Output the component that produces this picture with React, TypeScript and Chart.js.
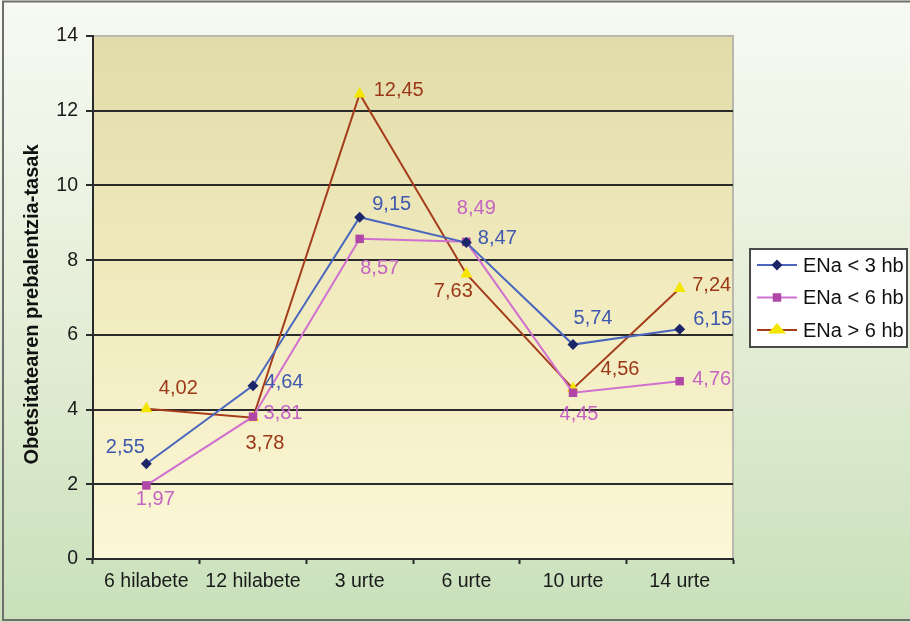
import React, { useEffect, useRef } from "react";
import { Chart, registerables } from "chart.js";

Chart.register(...registerables);

// Age groups along the x axis
const categories = ["6 hilabete", "12 hilabete", "3 urte", "6 urte", "10 urte", "14 urte"];

// Obesity prevalence rates per breastfeeding-duration group
const seriesNames = ["ENa < 3 hb", "ENa < 6 hb", "ENa > 6 hb"];
const under3 = [2.55, 4.64, 9.15, 8.47, 5.74, 6.15];
const under6 = [1.97, 3.81, 8.57, 8.49, 4.45, 4.76];
const over6 = [4.02, 3.78, 12.45, 7.63, 4.56, 7.24];

const yTicks = [0, 2, 4, 6, 8, 10, 12, 14];
const yTitle = "Obetsitatearen prebalentzia-tasak";

// Where each value label sits relative to its point (px)
const labelOffsets: [number, number][][] = [
  [[-21, -16], [31, -3], [32, -13], [31, -4], [20, -26], [33, -10]],
  [[9, 14], [30, -3], [20, 30], [10, -33], [6, 22], [32, -2]],
  [[32, -20], [12, 26], [39, -3], [-13, 18], [47, -19], [32, -3]],
];

const styles = [
  { line: "#4a66bd", marker: "#1b2668", label: "#3d58ad", shape: "rectRot", radius: 5.5 },
  { line: "#d070cf", marker: "#b046a6", label: "#c464c2", shape: "rect", radius: 6 },
  { line: "#a53c1b", marker: "#f4e600", label: "#9a3817", shape: "triangle", radius: 7 },
];

const FONT = "'Liberation Sans', Arial, sans-serif";

const fmt = (v: number) => v.toFixed(2).replace(".", ",");

function drawMarker(ctx: CanvasRenderingContext2D, shape: string, x: number, y: number, r: number, color: string) {
  ctx.save();
  ctx.fillStyle = color;
  ctx.beginPath();
  if (shape === "rectRot") {
    ctx.moveTo(x, y - r);
    ctx.lineTo(x + r, y);
    ctx.lineTo(x, y + r);
    ctx.lineTo(x - r, y);
  } else if (shape === "rect") {
    const s = r * Math.SQRT1_2;
    ctx.rect(x - s, y - s, s * 2, s * 2);
  } else {
    const h = r * 1.5;
    const w = r * 0.866 * 1.5;
    ctx.moveTo(x, y - h * 0.66);
    ctx.lineTo(x + w, y + h * 0.34);
    ctx.lineTo(x - w, y + h * 0.34);
  }
  ctx.closePath();
  ctx.fill();
  ctx.restore();
}

const backgroundPlugin = {
  id: "panelBackground",
  beforeDraw(chart: any) {
    const { ctx, width, height, chartArea } = chart;
    ctx.save();
    const outer = ctx.createLinearGradient(0, 0, 0, height);
    outer.addColorStop(0, "#f7faf3");
    outer.addColorStop(0.5, "#e5eed8");
    outer.addColorStop(1, "#c9e0ba");
    ctx.fillStyle = outer;
    ctx.fillRect(0, 0, width, height);
    ctx.strokeStyle = "#6e6e6e";
    ctx.lineWidth = 2;
    ctx.strokeRect(3, 1.5, width + 10, height - 3.5);

    const { left, top, right, bottom } = chartArea;
    const inner = ctx.createLinearGradient(0, top, 0, bottom);
    inner.addColorStop(0, "#e2dcaa");
    inner.addColorStop(0.5, "#f1ebbf");
    inner.addColorStop(1, "#fcf7d6");
    ctx.fillStyle = inner;
    ctx.fillRect(left, top, right - left, bottom - top);
    ctx.strokeStyle = "#b9b8ad";
    ctx.lineWidth = 2;
    ctx.beginPath();
    ctx.moveTo(left, top);
    ctx.lineTo(right, top);
    ctx.lineTo(right, bottom);
    ctx.stroke();

    // vertical axis title
    ctx.translate(32, (top + bottom) / 2 + 7);
    ctx.rotate(-Math.PI / 2);
    ctx.font = `bold 20px ${FONT}`;
    ctx.fillStyle = "#111111";
    ctx.textAlign = "center";
    ctx.textBaseline = "middle";
    ctx.fillText(yTitle, 0, 0);
    ctx.restore();
  },
};

const valueLabelPlugin = {
  id: "valueLabels",
  afterDatasetsDraw(chart: any) {
    const { ctx } = chart;
    ctx.save();
    ctx.font = `20px ${FONT}`;
    ctx.textAlign = "center";
    ctx.textBaseline = "middle";
    chart.data.datasets.forEach((ds: any, i: number) => {
      const meta = chart.getDatasetMeta(i);
      ctx.fillStyle = styles[i].label;
      meta.data.forEach((pt: any, j: number) => {
        const [dx, dy] = labelOffsets[i][j];
        ctx.fillText(fmt(ds.data[j]), pt.x + dx, pt.y + dy);
      });
    });
    ctx.restore();
  },
};

const legendPlugin = {
  id: "boxLegend",
  afterDraw(chart: any) {
    const { ctx, chartArea } = chart;
    const bx = chartArea.right + 17;
    const by = chartArea.top + 213;
    const bw = 157;
    const bh = 98;
    ctx.save();
    ctx.fillStyle = "#ffffff";
    ctx.fillRect(bx, by, bw, bh);
    ctx.strokeStyle = "#4a4a4a";
    ctx.lineWidth = 2;
    ctx.strokeRect(bx, by, bw, bh);
    ctx.font = `20px ${FONT}`;
    ctx.textAlign = "left";
    ctx.textBaseline = "middle";
    seriesNames.forEach((name, i) => {
      const y = by + 16 + i * 32.5;
      const st = styles[i];
      ctx.strokeStyle = st.line;
      ctx.lineWidth = 2;
      ctx.beginPath();
      ctx.moveTo(bx + 7, y);
      ctx.lineTo(bx + 47, y);
      ctx.stroke();
      drawMarker(ctx, st.shape, bx + 27, y, st.radius, st.marker);
      ctx.fillStyle = "#111111";
      ctx.fillText(name, bx + 53, y + 1);
    });
    ctx.restore();
  },
};

export default function App() {
  const canvasRef = useRef<HTMLCanvasElement>(null);

  useEffect(() => {
    document.body.style.margin = "0";
    const canvas = canvasRef.current;
    if (!canvas) return;
    const seriesValues = [under3, under6, over6];
    const chart = new Chart(canvas, {
      type: "line",
      data: {
        labels: categories,
        datasets: seriesValues.map((vals, i) => ({
          label: seriesNames[i],
          data: vals,
          borderColor: styles[i].line,
          borderWidth: 2,
          backgroundColor: styles[i].marker,
          pointBackgroundColor: styles[i].marker,
          pointBorderWidth: 0,
          pointBorderColor: styles[i].marker,
          pointStyle: styles[i].shape as any,
          pointRadius: styles[i].radius,
          tension: 0,
          fill: false,
        })),
      },
      options: {
        animation: false,
        responsive: true,
        maintainAspectRatio: false,
        layout: { padding: { top: 36, right: 177, left: 0, bottom: 0 } },
        plugins: {
          legend: { display: false },
          tooltip: { enabled: false },
        },
        scales: {
          x: {
            offset: true,
            grid: {
              offset: true,
              drawOnChartArea: false,
              drawTicks: true,
              tickLength: 5,
              tickColor: "#2b2b2b",
              tickWidth: 2,
            },
            border: { color: "#2b2b2b", width: 2 },
            ticks: {
              color: "#1a1a1a",
              font: { family: FONT, size: 19.5 },
              padding: 6,
              maxRotation: 0,
              autoSkip: false,
            },
            afterFit: (s: any) => {
              s.height = 63;
            },
          },
          y: {
            min: 0,
            max: 14,
            afterBuildTicks: (s: any) => {
              s.ticks = yTicks.map((v) => ({ value: v }));
            },
            grid: {
              color: (c: any) => (c.tick && c.tick.value === 14 ? "rgba(0,0,0,0)" : "#2b2b2b"),
              lineWidth: 2,
              tickLength: 7,
              tickColor: "#2b2b2b",
              tickWidth: 2,
            },
            border: { color: "#2b2b2b", width: 2 },
            ticks: {
              color: "#1a1a1a",
              font: { family: FONT, size: 19.5 },
              padding: 8,
            },
            title: { display: false },
            afterFit: (s: any) => {
              s.width = 93;
            },
          },
        },
      },
      plugins: [backgroundPlugin, valueLabelPlugin, legendPlugin],
    });
    return () => chart.destroy();
  }, []);

  return (
    <div style={{ width: 910, height: 622, position: "relative" }}>
      <canvas ref={canvasRef} />
    </div>
  );
}
